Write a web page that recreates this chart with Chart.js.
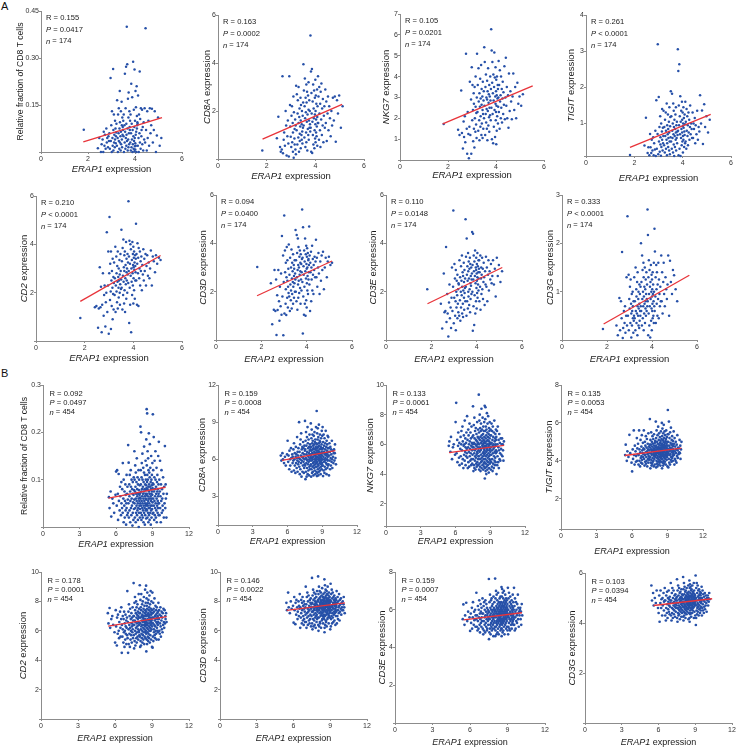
<!DOCTYPE html>
<html><head><meta charset="utf-8">
<script src="https://cdn.jsdelivr.net/npm/chart.js@4.4.1/dist/chart.umd.min.js"></script>
<style>
html,body{margin:0;padding:0;background:#fff;}
#fig{position:relative;width:741px;height:749px;overflow:hidden;background:#fff;}
#fig canvas{position:absolute;}
.plab{position:absolute;font:11px "Liberation Sans",Arial,sans-serif;color:#111;}
</style></head><body>
<div id="fig"><div class="plab" style="left:1px;top:0px">A</div><div class="plab" style="left:1px;top:367px">B</div></div>
<script>
// ---------- DATA ----------
// Panel A: ERAP1 expression of the 174 samples (shared x for all A panels)
const erap1A = [1.82,
2.42,2.48,2.55,2.58,
2.62,2.65,2.67,2.70,2.72,2.75,2.78,2.80,2.82,2.85,2.87,2.89,
2.91,2.93,2.96,2.97,2.99,3.01,3.02,3.04,3.05,3.07,3.08,3.08,3.10,3.11,3.12,3.14,3.15,3.15,3.17,3.18,3.19,3.20,
3.21,3.23,3.24,3.26,3.27,3.28,3.30,3.31,3.31,3.33,3.34,3.35,3.36,3.36,3.38,3.39,3.40,3.40,3.41,3.43,3.44,3.44,3.45,3.46,3.47,3.48,3.49,3.50,
3.51,3.52,3.53,3.55,3.56,3.57,3.58,3.59,3.60,3.61,3.62,3.63,3.63,3.64,3.65,3.66,3.67,3.68,3.69,3.70,3.71,3.72,3.72,3.73,3.74,3.75,3.76,3.77,3.78,3.79,
3.80,3.81,3.82,3.83,3.84,3.85,3.86,3.87,3.88,3.89,3.90,3.91,3.92,3.93,3.94,3.95,3.96,3.97,3.98,3.98,3.99,4.00,4.00,4.01,4.01,4.02,4.03,4.03,4.04,4.05,4.06,4.07,4.08,4.08,4.09,4.10,
4.11,4.12,4.13,4.15,4.16,4.17,4.19,4.20,4.21,4.22,4.24,4.25,4.27,4.28,4.30,4.31,4.33,4.35,4.37,4.39,
4.41,4.43,4.45,4.47,4.50,4.52,4.54,4.57,4.60,4.63,4.66,4.69,
4.72,4.76,4.80,4.84,4.89,4.93,4.98,5.05,5.12];

const cd8FractionA = [0.071,
0.012,0.045,0,0.025,
0.04,0,0.065,0.02,0.055,0.01,0.075,0.03,0.045,0.015,0.05,0.035,
0.06,0.01,0.236,0.035,0.085,0,0.13,0.045,0.02,0.265,0.07,0.005,0.12,0.03,0.055,0.015,0.1,0.04,0.075,0.028,0.05,0.062,
0.09,0.02,0.165,0.045,0,0.12,0.06,0.035,0.14,0.01,0.075,0.195,0.03,0.095,0.05,0.005,0.13,0.065,0.025,0.16,0.04,0.085,0.015,0.11,0.055,0.08,0.07,0.1,
0.05,0.12,0,0.085,0.03,0.25,0.065,0.01,0.14,0.045,0.272,0.02,0.09,0.055,0.4,0.035,0.28,0.075,0.005,0.17,0.04,0.11,0.015,0.19,0.06,0.025,0.13,0.08,0.07,0.1,
0.03,0.12,0.005,0.06,0.218,0.015,0.09,0.04,0.175,0,0.07,0.025,0.288,0.05,0.01,0.135,0.035,0.08,0.002,0.263,0.045,0.018,0.1,0.028,0.008,0.195,0.055,0.02,0.143,0.065,0,0.21,0.075,0.115,0.085,0.095,
0.09,0.02,0.18,0.045,0,0.12,0.06,0.257,0.03,0.105,0.01,0.14,0.05,0.07,0.135,0.025,0.08,0.005,0.095,0.04,
0.14,0.03,0.395,0.07,0.005,0.13,0.045,0.1,0.02,0.14,0.06,0.085,
0.138,0.03,0.07,0.13,0,0.053,0.11,0.02,0.045];

const cd8aA = [0.35,
0.86,1.76,0.5,0.3,
0.4,3.45,0.24,0.8,1.1,0.55,2,1.4,0.15,0.95,1.6,0.65,
0.1,3.45,2.25,1.35,0.93,0.5,1.8,2.2,0.7,1.5,0.3,1.1,2.6,0.05,1.95,0.85,1.25,0.6,1.65,0.4,1.4,0.2,
3.05,1.2,2.7,0.6,1.9,2.45,0.9,1.5,3,0.3,1.75,2.1,1.05,0.75,1.35,2.55,0.45,1.6,2.25,1,0.8,1.45,2,1.15,0.65,1.8,1.3,2.35,
3.95,1.4,2.85,0.9,2.2,3.35,1.7,0.5,2.55,1.95,1.1,3.1,0.7,2.35,1.55,2.8,0.35,1.85,1.25,2.65,1,3.2,2.05,0.8,1.6,2.45,1.3,2,1.45,1.15,
5.15,1.3,3.65,0.3,2.75,1.9,3.75,0.25,1.55,2.4,1,3.1,0.6,2.1,1.7,2.85,0.45,1.2,2.55,1.85,0.85,3.3,1.45,2,0.7,2.65,1.1,1.65,2.3,0.95,1.35,2.9,1.75,0.55,2.2,1.5,
3.45,1.5,2.6,0.8,3,1.9,1.2,2.3,0.5,2.8,1.65,3.15,1,2.1,1.4,2.5,0.7,1.8,2.2,1.3,
2.9,1.5,2.4,0.75,1.9,2.6,1.2,2.2,1.7,0.95,2,1.4,
2.55,1.6,2.6,0.72,2.45,1.9,2.65,1.3,2.2];

const nkg7A = [1.73,
1.45,1.2,3.33,1.3,
0.55,1.85,1.1,2.1,0.85,5.1,1.5,0.3,2.3,1.25,0.08,1.6,
3.75,1.2,2.9,0.3,4.45,1.9,3.6,2.4,0.9,3.2,1.5,2.7,0.6,3.5,2,1.35,2.55,4,1.7,2.25,1.05,3,
5.1,2.3,3.6,1.4,4.4,2.8,1.9,3.2,0.95,2.55,3.9,1.6,2.95,2.1,4.55,1.2,3.4,2.65,1.75,3.05,2.4,1.05,3.75,2.2,1.5,2.85,3.3,2,
5.4,2.6,4.7,1.2,3.5,2.2,4.1,1.8,3,2.45,1.5,3.8,2.9,0.95,3.3,2.35,4.4,1.65,2.75,3.15,2.05,3.6,1.35,2.5,3.05,2.15,4,2.85,1.9,3.4,
6.27,2.5,5.25,1,3.7,4.7,2.2,3.2,0.8,4.1,2.85,1.6,3.5,5.15,2.4,3.95,1.1,3.05,2.7,4.45,1.9,3.3,2.3,0.75,3.85,2.6,1.4,3.1,4,2.1,2.95,3.6,1.75,3.4,2.55,3,
4.75,2.3,3.6,1.5,4.3,2.8,3.1,2,4,2.5,3.4,1.8,2.95,3.75,2.2,3.25,2.65,4.5,1.95,3,
4.9,2.6,3.5,2,3.1,1.55,4.15,2.35,3.3,2.8,1.95,3.05,
4.15,2.4,3.5,2,3.7,2.7,3.05,2.6,3.15];

const tigitA = [0.13,
0.39,1.16,0.18,0.34,
0.12,0.71,0.34,0.18,0.55,0.25,0.62,0.12,0.45,0.28,0.8,0.1,
1.64,0.3,0.71,3.19,0.15,1.73,0.5,0.9,0.22,1.2,0.42,0.62,0.11,1,0.35,0.78,0.55,1.4,0.25,0.88,0.45,0.65,
1.35,0.4,0.9,0.2,1.1,0.65,1.3,0.3,0.8,0.55,1.55,0.12,0.95,0.45,0.7,1.25,0.35,0.85,0.6,1.05,0.25,0.75,1.45,0.5,0.15,0.92,1.18,0.62,
1.89,0.5,1.2,0.3,1.82,0.8,0.6,1,0.2,1.55,0.7,0.42,1.35,0.9,0.1,1.1,0.65,0.35,0.85,1.25,0.55,0.75,1.45,0.25,0.95,0.6,1.05,0.45,0.78,0.68,
3.05,0.8,2.45,0.12,1.5,0.95,2.64,0.3,1.2,0.7,1.75,0.1,1.05,0.6,1.35,0.85,0.4,1.6,0.75,1.1,0.5,0.92,1.3,0.2,0.65,1,1.45,0.55,0.88,1.15,0.35,0.78,1.25,0.68,0.98,0.45,
1.6,0.5,1.05,0.3,1.4,0.8,1.2,0.65,0.95,0.4,1.3,0.75,1.1,0.55,0.9,1.5,0.7,1,0.85,0.6,
1.3,0.6,1,0.85,1.15,0.45,0.95,0.7,1.35,0.55,0.9,0.78,
1.78,1,1.36,0.43,1.53,0.9,1.2,0.75,1.1];

const cd2A = [0.95,
1.4,1.45,0.55,1.35,
3.05,1.4,2.25,0.36,1.5,2.8,1.05,1.9,2.3,0.6,1.6,2,
4.5,1.2,2.3,3.7,0.3,2.8,5.13,1.7,3.2,2.05,0.5,3.7,2.5,1.45,2.9,2.2,0.9,3.4,1.95,2.65,1.3,2.4,
3.25,1.9,2.6,3.9,1.2,2.3,3.5,2.05,2.8,1.6,3.1,2.45,3.7,1.35,2.65,2.2,3,1.8,2.5,3.35,2,2.75,1.5,2.35,3.6,2.9,2.15,2.55,
4.6,2.2,3.3,1.3,3.85,2.7,1.9,4.2,2.45,3.05,1.55,2.9,3.55,2.1,3.7,1.2,2.6,3.15,2.35,4.1,1.75,2.85,3.4,2.5,3,2,3.6,2.75,3.25,2.4,
5.78,2.9,3.5,0.75,4.15,2.2,3.2,1.5,4,2.7,3.8,0.36,3,2.45,3.35,1.9,4.1,2.8,3.6,2.3,3.15,1.55,3.9,2.6,3.05,3.45,2.1,3.7,2.95,3.25,1.75,3.55,2.5,3.1,2.85,3.4,
4.85,2.5,3.6,1.5,3.2,4.05,2.8,3.45,1.45,3.85,2.6,3,3.7,2.3,3.3,2.9,3.5,2.1,3.15,2.75,
3.8,2.5,3.4,2.9,3.6,2.3,3.1,3.55,2.7,3.25,2.6,3,
3.75,2.3,3.5,3.3,2.85,3.55,3.2,3.45,3.35];

const cd3dA = [3.02,
2.35,0.65,1.25,2.9,
1.2,2.5,0.21,1.85,1.24,2.9,1.6,0.8,2.2,1.4,2.75,1.05,
4.3,1.8,3.5,0.2,2.4,5.15,1.1,3.7,2.8,1.5,3.2,2.1,1.03,2.6,3.85,1.75,2.45,3.3,1.35,2.2,2.95,1.95,
3.95,1.8,2.7,1.2,3.4,2.3,1.65,3,2.05,3.75,1.3,2.55,3.2,1.9,2.85,2.4,3.55,1.5,2.2,3.1,2.65,1.75,2.95,2.35,3.3,2,2.75,2.5,
4.55,2,3.3,1.6,4.35,2.6,3.6,1.25,2.9,4.2,2.3,3.1,1.75,3.85,2.45,3,1.95,3.45,2.7,3.7,2.15,3.2,2.85,1.5,3.55,2.5,3.15,2.05,2.8,3.35,
5.4,2.4,3.4,0.27,4.67,1.8,3.05,2.7,1.05,3.7,2.2,3.25,1.5,4.2,2.85,1,3.55,2.55,3.9,1.65,3.15,2.95,1.35,3.45,2.35,3.8,2.05,3,2.65,3.6,1.9,3.3,2.5,3.35,2.8,3.1,
4.7,2.3,3.5,1.2,3.2,2.8,3.65,1.6,3,2.5,3.9,2.05,3.35,2.7,1.9,3.1,2.9,3.45,2.6,3.25,
4.15,2.6,3.4,2.2,3,3.6,2.75,1.9,3.25,2.45,3.5,2.9,
3.65,2.1,3,3.4,2.6,3.25,3.45,3.1,3.2];

const cd3eA = [2.1,
1.5,0.48,2.75,1.15,
1.2,3.85,0.75,1.9,1.1,0.14,1.55,2.3,0.9,1.35,0.5,1.75,
3,1.2,2.2,5.36,0.69,1.75,3.15,2.55,1,1.6,2.9,0.4,2,1.35,2.45,1.85,0.9,2.7,1.5,2.1,1.15,2.35,
2.3,1,3.3,1.65,2.6,0.8,2,3.05,1.35,2.45,1.85,3.5,1.1,2.2,2.8,1.5,2.65,0.95,2.05,3.2,1.75,2.4,1.25,2.9,1.95,2.15,2.55,1.6,
5,2.2,3.45,1,4.2,2.7,1.6,3.05,2.45,1.3,3.6,2,2.85,1.8,3.25,2.55,1.45,2.95,2.1,3.4,1.15,2.35,3.15,1.7,2.65,2.25,3,1.9,2.5,2.75,
4.47,2,3.1,0.38,4.4,2.5,1.4,3.5,2.85,0.62,3.25,1.85,2.65,3.7,1.1,2.35,3,1.6,2.9,3.4,2.15,1.3,2.75,3.15,2.45,1.95,3.6,2.6,1.75,3.05,2.3,2.8,3.3,2.05,2.55,2.95,
3.3,1.6,2.8,2.2,3.5,1.25,2.55,3,1.9,2.7,3.4,2.1,2.95,1.7,2.4,3.2,2.6,1.45,2.85,2.3,
3.45,2.2,3,1.6,2.7,3.3,2.05,2.85,2.5,3.15,2.35,2.65,
3.3,2.3,2.95,1.8,3.4,2.65,3.1,2.4,2.85];

const cd3gA = [0.23,
0.3,0.1,0.87,0.2,
0.8,0.45,1.82,0.04,0.25,0.6,0.35,0.7,0.15,0.5,1.3,0.3,
2.56,0.5,1.35,0.2,0.85,0.65,1.1,0.35,1.25,0.75,0.05,0.55,0.95,0.3,0.6,1,0.45,0.7,0.15,0.8,0.4,0.5,
1.3,0.45,0.8,0.2,1.5,0.6,1.05,0.35,0.9,0.55,1.2,0.1,0.7,1.4,0.5,0.85,0.3,1,0.65,0.25,1.15,0.75,0.4,0.95,0.6,0.5,1.1,0.7,
2,0.6,1.2,0.3,1.75,0.85,1.45,0.45,1,0.7,1.6,0.2,1.3,0.9,0.55,1.1,0.75,1.5,0.35,1.05,0.65,1.25,0.8,0.5,0.95,1.4,0.6,0.85,1.15,0.7,
2.7,0.8,2.17,0.1,1.3,0.55,1.65,0.95,0.3,1.45,0.7,1.1,0.05,1.2,0.85,1.55,0.4,1,0.65,1.35,0.2,0.9,1.25,0.6,1.05,0.75,1.4,0.45,0.95,1.15,0.5,0.8,1.6,0.35,1,0.7,
2.3,0.6,1.83,0.9,1.3,0.35,1.55,1.05,0.75,1.4,0.5,1.15,0.85,1.6,0.45,1.25,0.95,0.7,1.1,0.8,
1.75,0.8,1.4,0.55,1.2,1.6,0.95,0.7,1.3,1.05,0.85,1.15,
1.75,0.5,1.64,1.2,0.95,1.45,1.34,1.05,0.8];

// Panel B: ERAP1 expression (shared x for all B panels)
const erap1B = [5.42,5.47,5.56,5.61,5.7,5.78,5.85,5.96,
6.01,6.06,6.09,6.15,6.17,6.22,6.24,6.3,6.33,6.35,6.41,6.44,6.45,6.5,
6.51,6.55,6.56,6.6,6.63,6.63,6.68,6.7,6.72,6.74,6.77,6.79,6.8,6.83,6.85,6.87,6.87,6.91,6.92,6.94,6.97,6.98,
7,7.02,7.04,7.06,7.09,7.1,7.11,7.13,7.16,7.17,7.18,7.21,7.23,7.23,7.26,7.28,7.29,7.31,7.33,7.35,7.36,7.38,7.38,7.41,7.43,7.44,7.46,7.47,7.48,7.5,
7.51,7.52,7.53,7.55,7.56,7.58,7.59,7.6,7.62,7.63,7.63,7.65,7.66,7.68,7.69,7.7,7.71,7.73,7.74,7.75,7.76,7.77,7.79,7.8,7.81,7.82,7.83,7.85,7.86,7.87,7.88,7.89,7.9,7.92,7.93,7.94,7.95,7.96,7.97,7.98,7.99,8,
8.01,8.02,8.03,8.04,8.04,8.06,8.07,8.08,8.09,8.1,8.11,8.12,8.13,8.13,8.15,8.16,8.17,8.18,8.19,8.2,8.21,8.22,8.22,8.24,8.25,8.26,8.27,8.28,8.29,8.3,8.31,8.31,8.33,8.34,8.35,8.36,8.37,8.38,8.39,8.4,8.4,8.42,8.43,8.44,8.44,8.45,8.46,8.47,8.48,8.48,8.49,8.49,8.5,8.5,8.51,8.51,
8.52,8.53,8.53,8.54,8.55,8.56,8.57,8.57,8.58,8.59,8.6,8.61,8.61,8.62,8.63,8.64,8.65,8.66,8.66,8.67,8.68,8.69,8.7,8.71,8.71,8.72,8.73,8.74,8.75,8.76,8.77,8.78,8.78,8.79,8.8,8.81,8.82,8.83,8.84,8.85,8.86,8.87,8.88,8.89,8.89,8.9,8.91,8.92,8.93,8.94,8.95,8.95,8.96,8.97,8.98,8.99,9,9,9.01,9.02,
9.03,9.05,9.06,9.07,9.08,9.1,9.11,9.12,9.14,9.15,9.16,9.17,9.19,9.2,9.21,9.22,9.24,9.25,9.26,9.28,9.29,9.3,9.31,9.33,9.34,9.35,9.37,9.38,9.39,9.4,9.42,9.43,9.44,9.45,9.46,9.47,9.48,9.49,9.5,9.5,
9.52,9.54,9.56,9.58,9.6,9.62,9.63,9.65,9.68,9.7,9.72,9.74,9.76,9.78,9.8,9.83,9.85,9.87,9.9,9.93,9.96,9.99,
10.02,10.05,10.08,10.1,10.14,10.18];

const cd8FractionB = [0.063,0.04,0.075,0.022,0.06,0.05,0.03,0.068,
0.117,0.045,0.12,0.07,0.015,0.112,0.055,0.035,0.085,0.065,0.025,0.095,0.05,0.04,
0.08,0.03,0.135,0.06,0.01,0.1,0.045,0.075,0.02,0.055,0.09,0.035,0.068,0.005,0.05,0.11,0.04,0.07,0.025,0.085,0.058,0.03,
0.173,0.05,0.136,0.02,0.09,0.065,0.035,0.11,0.075,0.01,0.055,0.12,0.04,0.085,0.025,0.1,0.06,0.045,0.08,0.003,0.07,0.03,0.095,0.052,0.015,0.068,0.105,0.038,0.078,0.058,
0.16,0.05,0.1,0.02,0.075,0.13,0.04,0.085,0.01,0.06,0.115,0.03,0.07,0.095,0.045,0.055,0.145,0.025,0.08,0.065,0.035,0.105,0.05,0.015,0.09,0.07,0.04,0.12,0.06,0,0.078,0.03,0.1,0.055,0.045,0.068,0.088,0.02,0.062,0.038,0.072,0.05,
0.212,0.06,0.12,0.03,0.09,0.2,0.045,0.075,0.015,0.105,0.055,0.135,0.025,0.08,0.065,0.04,0.155,0.1,0.05,0.02,0.085,0.07,0.035,0.125,0.06,0.01,0.095,0.045,0.075,0.115,0.03,0.17,0.055,0.08,0.04,0.065,0.005,0.11,0.05,0.09,0.025,0.07,0.14,0.035,0.06,0.1,0.045,0.078,0.018,0.088,0.058,0.185,0.038,0.068,0.048,0.082,
0.249,0.07,0.13,0.035,0.095,0.24,0.05,0.11,0.02,0.08,0.16,0.045,0.065,0.1,0.03,0.145,0.055,0.085,0.01,0.12,0.06,0.04,0.198,0.075,0.025,0.09,0.05,0.115,0.07,0.015,0.105,0.04,0.175,0.06,0.085,0.03,0.125,0.045,0.065,0.095,0.005,0.08,0.055,0.15,0.035,0.07,0.1,0.02,0.06,0.088,0.045,0.11,0.075,0.038,0.068,0.135,0.052,0.082,0.028,0.092,
0.238,0.06,0.12,0.03,0.09,0.19,0.045,0.075,0.015,0.105,0.055,0.14,0.025,0.08,0.065,0.04,0.16,0.1,0.05,0.02,0.085,0.07,0.035,0.125,0.06,0.01,0.095,0.045,0.075,0.11,0.03,0.055,0.08,0.04,0.065,0.15,0.05,0.09,0.025,0.07,
0.18,0.05,0.1,0.025,0.075,0.14,0.04,0.065,0.01,0.09,0.055,0.12,0.03,0.08,0.06,0.045,0.035,0.105,0.07,0.02,0.085,0.05,
0.171,0.04,0.09,0.06,0.02,0.07];

const cd8aB = [6.3,5.9,6.5,6.0,5.7,6.2,5.5,6.4,
7.5,5.8,6.3,5.2,6.7,6.0,5.5,6.9,6.1,5.0,6.4,5.7,6.2,5.9,
6.8,5.1,7.3,6.0,5.5,6.5,4.9,6.2,7.0,5.7,6.4,5.3,6.1,7.8,5.9,6.6,5.0,6.3,5.6,6.9,5.8,6.1,
9.0,5.4,6.6,4.8,7.2,6.0,5.2,7.6,6.3,5.7,8.1,4.6,6.8,5.9,6.2,7.0,5.0,6.5,5.5,7.4,6.1,5.8,6.9,4.9,6.4,5.3,7.1,6.0,5.6,6.7,
9.1,5.5,6.8,4.4,7.5,6.1,5.0,8.2,6.4,5.7,7.1,4.6,6.0,7.8,5.3,6.6,5.9,8.6,4.8,6.3,7.3,5.6,6.9,5.1,6.2,7.6,5.8,6.5,4.7,7.0,6.0,5.4,8.0,6.7,5.2,6.4,7.2,5.9,6.1,5.5,6.8,6.3,
8.9,5.6,7.0,4.6,6.3,7.7,5.2,6.7,8.4,5.9,6.1,4.9,7.3,6.5,5.4,8.0,6.0,7.5,5.0,6.8,5.7,7.1,6.2,4.7,6.9,5.5,7.9,6.4,5.8,7.2,5.3,6.6,8.2,6.0,5.1,7.4,6.3,5.6,6.8,7.6,4.8,6.1,5.9,7.0,6.5,5.4,8.6,6.2,5.7,6.9,7.3,5.0,6.4,6.7,5.8,6.0,
9.9,5.4,7.2,4.65,6.5,8.1,5.8,6.9,4.9,7.6,6.2,5.2,8.5,6.7,5.6,7.0,6.0,4.7,7.8,6.4,5.5,7.3,6.1,5.0,8.8,6.6,5.9,7.1,6.3,5.3,7.5,6.8,5.7,6.0,8.0,5.1,6.5,7.4,5.8,6.2,4.8,7.0,6.9,5.4,6.4,7.7,5.6,6.1,5.9,7.2,6.6,5.2,8.3,6.3,5.7,6.8,6.0,7.9,5.5,6.5,
8.6,5.5,6.9,4.65,7.4,6.2,5.1,8.0,6.6,5.8,7.1,6.0,4.9,7.7,6.4,5.4,6.8,5.9,7.3,6.1,5.2,8.3,6.5,5.7,7.0,6.3,4.8,7.5,6.7,5.6,6.0,7.2,5.3,6.4,7.9,5.9,6.2,6.9,5.5,6.6,
7.8,5.6,6.9,4.7,6.3,7.3,5.9,6.6,5.2,7.0,6.1,5.5,6.8,6.4,5.8,7.5,6.0,5.3,6.7,6.2,5.7,6.5,
6.8,5.9,6.5,7.2,6.1,5.6];

const nkg7B = [5.9,6.2,5.5,6.5,5.0,5.8,6.0,5.3,
7.5,8.8,5.4,6.3,4.8,5.9,6.8,5.1,6.1,4.6,5.7,6.5,5.2,6.0,
6.9,4.7,5.6,7.2,5.0,6.2,4.4,5.9,6.6,5.3,6.0,4.9,7.6,5.5,6.4,4.6,5.8,6.1,5.2,6.8,5.7,5.4,
7.9,5.1,6.3,4.4,5.8,7.0,4.8,6.6,5.5,6.0,4.5,7.4,5.2,6.2,5.7,4.9,6.8,5.4,6.4,4.6,5.9,7.2,5.0,6.1,5.6,4.7,6.5,5.3,5.8,6.0,
8.56,5.0,6.6,4.2,5.8,7.3,4.6,6.1,5.4,7.8,4.4,6.4,5.6,4.9,6.9,5.2,6.0,4.3,5.7,7.1,5.1,6.3,4.7,5.9,6.7,5.3,4.5,6.2,5.5,7.5,4.8,6.0,5.4,6.5,4.6,5.8,7.0,5.0,6.1,5.6,5.2,6.4,
9.35,5.2,6.8,4.3,6.0,7.6,4.7,5.5,8.0,6.3,4.5,5.8,7.1,5.0,6.5,4.2,5.6,6.9,5.3,7.4,4.8,6.1,5.7,8.4,4.4,6.6,5.1,6.2,7.0,4.9,5.9,6.4,4.6,7.8,5.4,6.0,5.2,6.7,4.3,5.8,7.2,5.5,6.3,4.7,6.9,5.0,5.7,6.1,7.5,4.5,5.3,6.5,5.9,4.8,6.2,5.6,
8.6,3.7,5.4,6.9,4.4,6.1,7.7,5.0,5.8,8.5,4.2,6.4,5.2,7.2,4.7,5.9,6.6,4.0,5.5,7.0,6.2,4.5,5.7,8.1,4.9,6.0,5.3,6.8,4.3,5.6,7.4,6.3,5.1,4.6,6.5,5.8,7.9,4.8,6.0,5.4,6.7,4.1,5.9,7.1,5.2,6.2,4.4,5.6,6.9,5.0,6.4,7.5,4.7,5.7,6.1,5.3,6.6,4.9,5.5,6.0,
7.0,4.3,5.8,6.6,4.8,5.3,7.4,6.1,4.5,5.6,6.9,5.0,6.3,4.2,5.9,7.2,5.4,4.7,6.5,5.7,6.0,4.4,6.8,5.2,5.8,7.6,4.9,6.2,5.5,4.6,6.4,5.1,6.7,5.9,4.8,6.0,5.4,7.0,5.6,6.3,
6.5,4.0,5.5,6.9,4.6,6.0,5.2,7.2,4.8,5.8,6.3,4.4,5.6,6.7,5.0,6.1,5.4,4.9,6.4,5.7,5.3,6.0,
6.4,5.2,6.0,5.6,4.9,6.2];

const tigitB = [4.3,4.85,4.0,4.5,4.2,5.37,4.4,3.9,
3.44,4.6,4.1,5.6,4.3,3.8,4.8,4.5,3.95,4.25,5.2,4.0,4.65,4.35,
4.9,3.8,4.3,5.6,4.0,4.6,3.7,4.45,5.1,4.15,3.9,4.75,4.25,5.35,4.05,4.55,3.85,4.4,4.95,4.2,4.65,4.35,
5.6,4.1,4.6,3.75,5.0,4.3,3.95,4.8,4.45,5.3,3.85,4.2,4.7,4.0,5.15,4.5,3.7,4.35,4.9,4.1,4.6,3.9,5.45,4.25,4.75,4.05,4.4,4.55,4.15,4.85,
6.2,4.2,4.7,3.6,5.1,4.4,3.9,4.85,5.5,4.05,4.6,3.75,4.3,5.0,4.5,3.85,4.75,5.3,4.15,4.55,3.95,4.9,4.35,5.15,4.0,4.65,3.7,4.45,5.4,4.25,4.8,4.1,4.6,3.8,4.95,4.35,4.5,5.05,4.2,4.7,4.4,4.55,
6.07,4.3,4.8,3.65,5.2,4.5,4.0,5.6,4.7,3.85,4.4,5.0,4.15,4.6,3.7,5.35,4.25,4.9,4.45,3.95,5.8,4.65,4.1,4.75,3.8,5.1,4.35,4.55,5.45,4.05,4.85,4.2,4.65,3.9,5.25,4.45,4.0,4.95,4.3,4.7,3.75,5.05,4.5,4.15,5.55,4.6,4.25,4.8,3.95,4.4,5.15,4.55,4.1,4.9,4.35,4.7,
6.0,4.4,4.9,3.6,5.3,4.6,4.1,5.7,4.8,3.9,4.5,5.1,4.25,4.7,3.75,5.45,4.35,5.0,4.55,4.0,5.9,4.75,4.2,4.85,3.85,5.2,4.45,4.65,5.55,4.15,4.95,4.3,4.75,3.95,5.35,4.55,4.1,5.05,4.4,4.8,3.8,5.15,4.6,4.25,5.6,4.7,4.35,4.9,4.05,4.5,5.25,4.65,4.2,5.0,4.45,4.8,3.7,4.6,5.4,4.3,
6.68,4.4,5.0,3.65,5.4,4.6,4.1,6.07,4.8,3.9,4.5,5.2,4.3,4.7,3.8,5.5,4.35,4.95,4.55,4.05,5.75,4.65,4.2,4.85,3.95,5.1,4.45,4.6,5.3,4.15,4.9,4.25,4.75,4.0,5.05,4.5,4.3,4.8,4.4,4.6,
5.55,4.3,4.9,3.8,5.2,4.5,4.1,4.75,4.0,5.0,4.4,4.6,3.9,4.85,4.25,5.35,4.55,4.15,4.7,4.35,4.65,4.45,
5.1,4.4,4.8,4.1,4.6,5.0];

const cd2B = [7.2,6.5,7.55,6.2,6.8,7.0,6.4,5.9,
5.2,7.4,6.3,5.0,6.9,5.8,7.1,6.0,5.5,6.6,7.3,6.2,5.6,6.8,
7.6,4.5,6.4,5.6,7.0,6.1,5.2,6.8,5.9,7.3,4.9,6.5,6.0,5.4,7.1,6.3,5.8,6.7,5.1,6.2,6.9,5.7,
8.7,5.5,6.6,4.5,7.3,6.1,5.1,7.8,6.4,5.8,7.0,4.9,6.2,7.5,5.4,6.8,6.0,5.7,7.2,6.5,5.2,6.9,6.3,5.9,7.6,6.1,5.5,6.7,6.4,7.0,
9.25,5.7,7.0,4.8,6.4,7.9,5.3,6.7,8.3,6.0,7.4,5.0,6.6,5.8,7.2,6.2,8.0,5.5,6.9,7.6,5.2,6.5,7.1,5.9,6.3,7.8,5.6,6.8,7.3,6.1,5.4,7.0,6.6,8.5,5.9,6.4,7.5,6.0,6.9,5.7,7.2,6.5,
9.1,5.6,7.2,4.9,6.5,8.1,5.3,6.9,7.6,6.1,5.0,7.4,6.3,8.5,5.8,6.7,7.0,5.5,6.4,7.8,6.0,5.2,7.1,6.6,8.0,5.7,6.9,7.3,6.2,5.4,7.5,6.8,5.9,8.3,6.4,7.0,5.1,6.6,7.7,6.1,5.6,7.2,6.8,5.9,8.8,6.3,7.4,6.5,5.5,7.0,6.7,7.9,6.0,6.6,7.1,6.4,
9.07,5.8,7.3,4.6,6.6,8.2,5.4,7.0,7.7,6.2,5.1,7.5,6.4,8.6,5.9,6.8,7.1,5.6,6.5,7.9,6.1,5.3,7.2,6.7,8.1,5.8,7.0,7.4,6.3,5.5,7.6,6.9,6.0,8.4,6.5,7.1,5.2,6.7,7.8,6.2,5.7,7.3,6.9,6.0,8.7,6.4,7.5,6.6,5.4,7.1,6.8,8.0,6.1,6.7,7.2,6.5,4.9,7.4,6.3,6.9,
8.6,4.85,7.2,5.6,6.5,7.9,5.3,6.9,7.5,6.1,5.9,7.3,6.4,8.2,5.7,6.7,7.0,5.5,6.3,7.7,6.0,6.8,7.1,5.8,7.4,6.6,5.4,6.9,7.6,6.2,6.5,7.2,6.0,6.8,7.0,6.4,5.9,7.3,6.6,6.9,
7.9,5.4,6.8,7.4,6.0,7.1,5.8,6.5,7.6,6.3,5.6,7.0,6.7,7.3,6.1,6.9,5.9,7.2,6.4,7.5,6.6,6.2,
7.4,6.5,7.0,6.8,7.2,6.6];

const cd3dB = [7.9,7.4,8.6,7.6,7.2,8.0,7.5,7.7,
6.55,8.3,7.4,6.45,7.9,7.1,8.1,7.6,6.8,7.3,8.0,7.0,7.7,7.5,
8.5,6.2,7.6,6.9,8.1,7.2,6.5,7.9,7.4,8.3,6.7,7.7,7.0,6.4,8.0,7.5,6.8,7.8,7.3,6.6,7.6,7.1,
9.0,6.6,7.8,6.2,8.3,7.2,6.9,8.6,7.5,6.4,8.0,7.3,7.0,8.4,6.7,7.7,7.4,6.5,8.1,7.6,6.8,7.9,7.1,8.2,6.3,7.5,7.8,7.0,7.6,7.3,
9.6,6.5,7.9,6.1,8.4,7.3,6.8,8.8,7.6,6.3,8.1,7.1,7.4,8.6,6.7,7.8,7.5,6.4,8.2,7.7,6.9,8.0,7.2,8.5,6.2,7.6,7.9,7.0,8.3,7.4,6.6,7.8,7.1,8.7,6.8,7.5,8.0,7.3,7.7,6.9,7.6,8.1,
9.7,6.4,8.0,6.0,8.5,7.4,6.9,9.0,7.7,6.3,8.2,7.2,7.5,8.7,6.6,7.9,7.6,6.5,8.3,7.8,7.0,8.1,7.3,8.6,6.2,7.7,8.0,7.1,8.4,7.5,6.7,7.9,7.2,8.9,6.8,7.6,8.1,7.4,7.8,7.0,8.3,6.5,7.7,8.5,7.3,7.9,6.9,8.0,7.5,7.1,8.2,7.6,6.8,7.8,7.4,8.0,
9.5,5.9,8.1,6.2,8.6,7.5,7.0,9.1,7.8,6.4,8.3,7.3,7.6,8.8,6.7,8.0,7.7,6.6,8.4,7.9,7.1,8.2,7.4,8.7,6.3,7.8,8.1,7.2,8.5,7.6,6.8,8.0,7.3,9.0,6.9,7.7,8.2,7.5,7.9,7.1,8.4,6.5,7.8,8.6,7.4,8.0,7.0,8.1,7.6,7.2,8.3,7.7,6.9,7.9,7.5,8.1,6.1,7.3,8.0,7.6,
9.2,6.3,8.0,6.8,8.5,7.4,7.0,8.8,7.7,6.5,8.2,7.2,7.6,8.6,6.9,7.9,7.5,6.6,8.3,7.8,7.1,8.1,7.3,8.4,6.7,7.7,8.0,7.2,7.9,7.5,6.4,8.2,7.4,7.8,7.0,7.6,8.1,7.3,7.7,7.9,
8.7,6.5,7.9,7.0,8.3,7.4,6.8,8.0,7.6,7.2,8.5,7.7,6.7,8.1,7.3,7.8,7.5,8.2,7.1,7.9,7.6,7.4,
8.0,7.4,7.8,8.3,7.6,7.2];

const cd3eB = [5.5,6.28,5.2,5.7,6.37,5.4,5.9,5.6,
4.88,5.8,5.3,6.1,5.0,5.6,6.4,5.2,5.9,5.45,6.0,5.1,5.7,5.5,
6.9,5.1,5.7,4.9,6.2,5.4,5.0,6.0,5.6,6.5,5.2,5.8,4.8,5.5,6.3,5.3,5.9,5.1,6.1,5.6,5.4,5.8,
6.6,5.0,5.8,4.7,6.2,5.4,4.9,6.4,5.6,5.2,6.0,4.8,5.7,6.5,5.3,5.9,5.1,6.3,5.5,4.9,6.1,5.7,5.0,5.8,5.4,6.0,5.2,5.6,5.9,5.5,
7.63,4.44,5.9,4.8,6.4,5.5,5.0,6.8,5.7,5.2,6.1,4.7,5.8,6.5,5.3,6.0,5.1,6.6,5.6,4.9,6.2,5.4,5.9,5.0,6.3,5.7,5.2,6.0,5.5,4.6,6.7,5.8,5.3,6.1,5.6,5.0,6.4,5.7,5.4,5.9,5.1,6.0,
7.65,4.6,6.0,4.9,6.6,5.6,5.1,7.0,5.8,5.3,6.2,4.7,5.9,6.8,5.4,6.1,5.2,6.5,5.7,4.8,6.3,5.5,6.0,5.0,6.9,5.8,5.3,6.1,5.6,4.7,6.4,5.9,5.4,6.2,5.7,5.1,6.6,5.8,5.5,6.0,5.2,6.3,5.6,4.9,6.7,5.9,5.4,6.1,5.7,5.3,6.4,5.8,5.0,6.0,5.5,6.2,
7.2,4.6,6.1,5.0,6.7,5.7,5.2,7.1,5.9,5.4,6.3,4.8,6.0,6.9,5.5,6.2,5.3,6.6,5.8,4.9,6.4,5.6,6.1,5.1,7.0,5.9,5.4,6.2,5.7,4.7,6.5,6.0,5.5,6.3,5.8,5.2,6.8,5.9,5.6,6.1,5.3,6.4,5.7,5.0,6.6,6.0,5.5,6.2,5.8,5.4,6.5,5.9,5.1,6.1,5.6,6.3,4.9,5.8,6.0,5.7,
7.16,4.7,6.0,5.1,6.6,5.6,5.3,6.9,5.8,5.0,6.2,5.5,6.4,4.9,5.9,6.7,5.4,6.1,5.7,5.2,6.3,5.8,5.5,6.5,5.0,6.0,5.6,6.2,5.3,5.9,6.8,5.4,6.1,5.7,5.2,6.4,5.8,5.5,6.0,5.6,
7.16,5.2,6.2,4.9,6.6,5.6,5.9,5.0,6.4,5.4,6.0,5.7,5.3,6.3,5.8,6.8,5.5,6.1,5.1,5.9,5.7,6.0,
6.1,5.5,5.9,5.2,6.3,5.7];

const cd3gB = [5.5,4.9,5.2,4.7,5.0,4.8,5.3,4.6,
4.4,5.1,4.05,4.8,5.3,4.6,4.95,4.3,5.0,4.7,5.2,4.5,4.85,4.9,
5.4,4.3,4.9,4.1,5.1,4.6,4.4,5.25,4.75,4.2,5.0,4.55,4.85,5.3,4.45,4.7,4.95,4.35,5.05,4.65,4.8,4.9,
5.6,4.3,4.9,4.1,5.2,4.6,4.4,5.4,4.8,4.2,5.0,4.55,4.7,5.3,4.35,4.85,4.5,5.1,4.65,4.25,4.95,4.75,5.15,4.45,4.9,4.6,5.0,4.8,4.7,5.05,
5.75,4.2,4.9,4.05,5.3,4.6,4.4,5.5,4.8,4.3,5.1,4.55,4.7,5.4,4.35,4.95,4.5,5.2,4.65,4.15,5.0,4.85,5.25,4.45,4.9,4.6,5.05,4.75,4.25,5.35,4.55,4.8,5.0,4.4,5.15,4.7,4.95,4.5,4.85,5.1,4.65,4.8,
5.84,4.25,4.95,4.1,5.35,4.65,4.45,5.6,4.85,4.3,5.15,4.6,4.75,5.45,4.4,5.0,4.55,5.25,4.7,4.2,5.05,4.9,5.3,4.5,4.95,4.65,5.1,4.8,4.35,5.4,4.6,4.85,5.05,4.45,5.2,4.75,5.0,4.55,4.9,5.15,4.7,4.8,5.5,4.15,4.95,4.6,5.25,4.85,4.4,5.0,4.75,5.1,4.65,4.9,5.05,4.8,
5.7,4.2,5.0,4.05,5.4,4.7,4.5,5.55,4.9,4.35,5.2,4.6,4.8,5.45,4.4,5.05,4.6,5.3,4.75,4.25,5.1,4.95,5.35,4.55,5.0,4.7,5.15,4.85,4.4,5.5,4.65,4.9,5.1,4.5,5.25,4.8,5.05,4.6,4.95,5.2,4.75,4.85,5.6,4.2,5.0,4.65,5.3,4.9,4.45,5.05,4.8,5.15,4.7,4.95,5.1,4.85,4.3,5.0,4.75,4.9,
5.9,3.92,5.0,4.2,5.4,4.7,4.5,5.6,4.9,4.35,5.2,4.6,4.8,5.5,4.45,5.05,4.65,5.3,4.75,4.3,5.1,4.95,5.35,4.55,5.0,4.7,5.15,4.85,4.4,5.25,4.6,4.9,5.1,4.5,5.2,4.8,5.0,4.65,4.95,4.85,
5.45,4.3,5.0,4.6,5.3,4.75,4.5,5.15,4.9,4.4,5.05,4.65,4.85,5.2,4.55,4.95,4.7,5.1,4.8,4.45,5.0,4.9,
5.1,4.7,5.0,4.85,5.2,4.95];

// Regression lines: [x1, y1, x2, y2]
const fitLinesA = [[1.8,0.032,5.15,0.11],[1.83,0.83,5.1,2.28],[1.78,1.73,5.53,3.55],[1.82,0.34,5.16,1.25],
                   [1.82,1.64,5.12,3.54],[1.81,1.83,5.12,3.27],[1.83,1.5,5.13,3.0],[1.85,0.33,5.66,1.34]];
const fitLinesB = [[5.38,0.061,10.07,0.084],[5.52,5.92,10.13,6.7],[5.44,5.44,10.2,5.93],[5.39,4.28,10.17,4.67],
                   [5.45,6.32,10.19,6.97],[5.45,7.39,10.2,7.9],[5.49,5.46,10.16,5.84],[5.6,4.7,10.38,4.97]];
// Statistics printed in each panel
const rValuesA = ['0.155','0.163','0.105','0.261','0.210','0.094','0.110','0.333'];
const pValuesA = ['= 0.0417','= 0.0002','= 0.0201','< 0.0001','< 0.0001','= 0.0400','= 0.0148','< 0.0001'];
const rValuesB = ['0.092','0.159','0.133','0.135','0.178','0.146','0.159','0.103'];
const pValuesB = ['= 0.0497','= 0.0008','= 0.0061','= 0.0053','= 0.0001','= 0.0022','= 0.0007','= 0.0394'];
const nA = '174', nB = '454';
// y-axis labels (gene names; null = CD8 T-cell fraction)
const yGenes = [null,'CD8A','NKG7','TIGIT','CD2','CD3D','CD3E','CD3G'];
// axis ranges: [min, max, step, decimals]
const yAxesA = [[0,0.45,0.15,2],[0,6,2,0],[0,7,1,0],[0.1,4,1,0],[0,6,2,0],[0,6,2,0],[0,6,2,0],[0,3,1,0]];
const yAxesB = [[0,0.3,0.1,1],[0.7,12,3,0],[0.5,10,2,0],[0.4,8,2,0],[0,10,2,0],[0,10,2,0],[0,8,2,0],[0,6,2,0]];
const xAxisA = [0,6,2], xAxisB = [0,12,3];

// ---------- LAYOUT (not data) ----------
const rectsA = [[41,11,182,152],[218,15,364,159],[400,14,544,160],[586,15,731,156],
                [36,196,182,341],[216,195,352,340],[386,195,522,340],[562,195,697,340]];
const rectsB = [[43,385,189,527],[218,385,357,525],[386,385,525,526],[561,385,703,529],
                [41,572,189,719],[220,572,367,719],[395,572,545,723],[585,573,732,723]];
const yTitleOffA = [20.5,11,13.3,15,12,12.4,12.2,11.5];
const yTitleOffB = [18.8,16,15.2,12,18,16.2,12.5,12.8];
const xTitleOffA = [17.6,17.7,15,22.3,17.8,19,19,19];
const xTitleOffB = [17.7,16.3,15.8,22.3,19.7,19.7,19.4,19.4];

const FONT = '"Liberation Sans", Arial, Helvetica, sans-serif';
const PADL = 30, PADT = 8, PADR = 8, PADB = 28;
const BLUE = '#2650a8', RED = '#e8343a', AXIS = '#8c8c8c', TXT = '#1a1a1a';
Chart.defaults.font.family = FONT;

function drawRuns(ctx, runs, x, y, size, center) {
  ctx.fillStyle = TXT;
  ctx.textAlign = 'left';
  const ws = runs.map(r => { ctx.font = (r[1] ? 'italic ' : '') + size + 'px ' + FONT; return ctx.measureText(r[0]).width; });
  const total = ws.reduce((a, b) => a + b, 0);
  let cx = center ? x - total / 2 : x;
  runs.forEach((r, i) => { ctx.font = (r[1] ? 'italic ' : '') + size + 'px ' + FONT; ctx.fillText(r[0], cx, y); cx += ws[i]; });
}
function makeTextPlugin(cfg) {
  return {
    id: 'panelText',
    afterDraw(chart) {
      const ctx = chart.ctx, a = chart.chartArea;
      ctx.save();
      ctx.textBaseline = 'middle';
      cfg.lines.forEach((runs, i) => drawRuns(ctx, runs, a.left + cfg.annX, a.top + cfg.annY + i * cfg.annGap, cfg.annSize, false));
      drawRuns(ctx, cfg.xTitle, (a.left + a.right) / 2, a.bottom + cfg.xOff, cfg.xSize, true);
      ctx.translate(a.left - cfg.yOff, (a.top + a.bottom) / 2);
      ctx.rotate(-Math.PI / 2);
      drawRuns(ctx, cfg.yTitle, 0, 0, cfg.ySize, true);
      ctx.restore();
    }
  };
}
function toPoints(xs, ys) {
  const out = [];
  const n = Math.min(xs.length, ys.length);
  for (let i = 0; i < n; i++) out.push({x: xs[i], y: ys[i]});
  return out;
}
function makePanel(opt) {
  const [L, T, R, B] = opt.rect;
  const W = R - L, H = B - T;
  const c = document.createElement('canvas');
  c.width = PADL + W + PADR; c.height = PADT + H + PADB;
  c.style.left = (L - PADL) + 'px'; c.style.top = (T - PADT) + 'px';
  c.style.width = c.width + 'px'; c.style.height = c.height + 'px';
  document.getElementById('fig').appendChild(c);
  const [ymin, ymax, ystep, ydec] = opt.yAxis;
  const [xmin, xmax, xstep] = opt.xAxis;
  const f = opt.fit;
  new Chart(c, {
    type: 'scatter',
    data: { datasets: [
      { type: 'line', data: [{x: f[0], y: f[1]}, {x: f[2], y: f[3]}], borderColor: RED, borderWidth: 1.3,
        pointRadius: 0, fill: false, tension: 0, order: 0, clip: false },
      { data: toPoints(opt.xs, opt.ys), backgroundColor: BLUE, borderWidth: 0, pointRadius: opt.radius,
        pointHoverRadius: opt.radius, order: 1, clip: false }
    ]},
    options: {
      responsive: false, animation: false, devicePixelRatio: 1, events: [],
      layout: { padding: { left: 0, top: PADT, right: PADR, bottom: 0 } },
      plugins: { legend: { display: false }, tooltip: { enabled: false } },
      scales: {
        x: { type: 'linear', min: xmin, max: xmax, bounds: 'ticks', offset: false,
             ticks: { stepSize: xstep, autoSkip: false, maxRotation: 0, padding: 1, color: '#333', font: { size: 7 },
                      callback: v => String(Math.round(v)) },
             grid: { drawOnChartArea: false, drawTicks: true, tickLength: 2, color: AXIS },
             border: { color: AXIS, width: 1 },
             afterFit: s => { s.height = PADB; } },
        y: { type: 'linear', min: ymin, max: ymax, bounds: 'ticks', offset: false,
             ticks: { stepSize: ystep, autoSkip: false, padding: 0, color: '#333', font: { size: 7 },
                      callback: v => { const k = v / ystep; return (v < 1e-9 || Math.abs(k - Math.round(k)) > 1e-6) ? '' : v.toFixed(ydec); } },
             grid: { drawOnChartArea: false, drawTicks: true, tickLength: 2, color: AXIS },
             border: { color: AXIS, width: 1 },
             afterFit: s => { s.width = PADL; } }
      }
    },
    plugins: [makeTextPlugin(opt.text)]
  });
}

const seriesA = [cd8FractionA, cd8aA, nkg7A, tigitA, cd2A, cd3dA, cd3eA, cd3gA];
const seriesB = [cd8FractionB, cd8aB, nkg7B, tigitB, cd2B, cd3dB, cd3eB, cd3gB];
const groups = [
  { xs: erap1A, series: seriesA, fits: fitLinesA, r: rValuesA, p: pValuesA, n: nA, rects: rectsA, yAxes: yAxesA, xAxis: xAxisA,
    yOff: yTitleOffA, xOff: xTitleOffA, annX: 5, annY: 7, annGap: 11.7, xSize: 9.5, radius: 1.25 },
  { xs: erap1B, series: seriesB, fits: fitLinesB, r: rValuesB, p: pValuesB, n: nB, rects: rectsB, yAxes: yAxesB, xAxis: xAxisB,
    yOff: yTitleOffB, xOff: xTitleOffB, annX: 6.5, annY: 9, annGap: 9.2, xSize: 9, radius: 1.35 }
];
groups.forEach(g => {
  g.series.forEach((ys, i) => {
    const gene = yGenes[i];
    makePanel({
      rect: g.rects[i], xs: g.xs, ys: ys, fit: g.fits[i], yAxis: g.yAxes[i], xAxis: g.xAxis, radius: g.radius,
      text: {
        lines: [[['R = ' + g.r[i], false]], [['P', true], [' ' + g.p[i], false]], [['n', true], [' = ' + g.n, false]]],
        annX: g.annX, annY: g.annY, annGap: g.annGap, annSize: 7.6,
        xTitle: [['ERAP1', true], [' expression', false]], xOff: g.xOff[i], xSize: g.xSize,
        yTitle: gene ? [[gene, true], [' expression', false]] : [['Relative fraction of CD8 T cells', false]],
        ySize: gene ? 9.5 : 8.6, yOff: g.yOff[i]
      }
    });
  });
});
</script>
</body></html>
